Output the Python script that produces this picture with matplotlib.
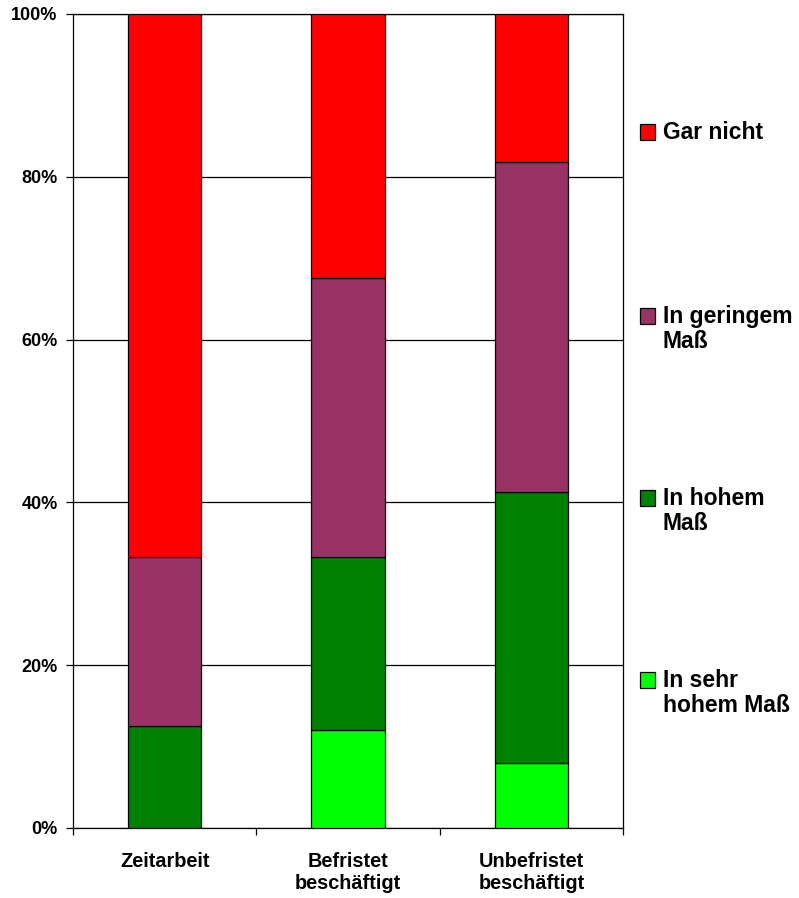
import matplotlib
matplotlib.use("Agg")
import matplotlib.pyplot as plt
import numpy as np
from matplotlib.patches import Rectangle

plt.rcParams['font.family'] = ['Liberation Sans', 'DejaVu Sans']
plt.rcParams['font.weight'] = 'bold'

categories = ["Zeitarbeit", "Befristet\nbeschäftigt", "Unbefristet\nbeschäftigt"]
series_names = ["In sehr\nhohem Maß", "In hohem\nMaß", "In geringem\nMaß", "Gar nicht"]
sehr_hoch = [0.0, 12.1, 8.0]
hoch = [12.5, 21.2, 33.3]
gering = [20.8, 34.3, 40.5]
gar_nicht = [66.7, 32.4, 18.2]
series_values = [sehr_hoch, hoch, gering, gar_nicht]
colors = ["#00FF00", "#008000", "#993366", "#FF0000"]
yticks = [0, 20, 40, 60, 80, 100]
ytick_labels = ["0%", "20%", "40%", "60%", "80%", "100%"]

W, H = 799, 898
fig = plt.figure(figsize=(W / 100, H / 100), dpi=100)
ax = fig.add_axes([73 / W, (H - 828) / H, (623 - 73) / W, (828 - 14) / H])

x = np.arange(len(categories))
bottom = np.zeros(len(categories))
for vals, col in zip(series_values, colors):
    v = np.array(vals)
    ax.bar(x, v, width=0.4, bottom=bottom, color=col, edgecolor='black',
           linewidth=0.9, zorder=3)
    bottom += v

ax.set_xlim(-0.5, 2.5)
ax.set_ylim(0, 100)
ax.set_yticks(yticks)
ax.set_yticklabels(ytick_labels, fontsize=13, fontweight='bold')
ax.yaxis.grid(True, color='black', linewidth=0.9, zorder=0)
ax.set_axisbelow(True)
ax.tick_params(axis='y', length=5, width=0.9, pad=6)

ax.set_xticks(x)
ax.set_xticklabels(categories, fontsize=14.3, fontweight='bold', linespacing=1.2)
ax.set_xticks([-0.5, 0.5, 1.5, 2.5], minor=True)
ax.tick_params(axis='x', which='major', length=0, pad=17)
ax.tick_params(axis='x', which='minor', length=5, width=0.9)

for s in ax.spines.values():
    s.set_linewidth(0.9)
    s.set_color('black')

# legend (manual, top to bottom); y = cap-top pixel of the first line
leg_y = [124, 308, 490, 672]
leg_names = series_names[::-1]
leg_cols = colors[::-1]
for yy, name, col in zip(leg_y, leg_names, leg_cols):
    fig.add_artist(Rectangle((640 / W, 1 - (yy + 16) / H), 15 / W, 16 / H,
                             transform=fig.transFigure, facecolor=col,
                             edgecolor='black', linewidth=0.9))
    fig.text(663 / W, 1 - (yy - 3) / H, name, fontsize=16.5, fontweight='bold',
             va='top', ha='left', linespacing=1.1)

fig.savefig("out.png", dpi=100)
